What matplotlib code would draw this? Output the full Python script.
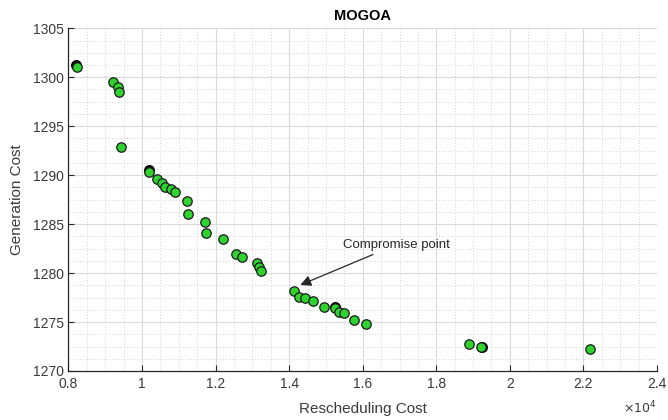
import matplotlib
matplotlib.use("Agg")
import matplotlib.pyplot as plt
from matplotlib.ticker import MultipleLocator, FuncFormatter, AutoMinorLocator

plt.rcParams['font.family'] = ['Liberation Sans', 'DejaVu Sans']

# Pareto front (green markers)
resched_cost = [8230, 9220, 9340, 9365, 9430, 10195, 10420, 10554, 10627, 10780,
                10897, 11214, 11240, 11708, 11727, 12195, 12565, 12716, 13114, 13168,
                13240, 14132, 14268, 14430, 14635, 14951, 15240, 15343, 15497, 15762,
                16078, 18890, 19208, 22190]
gen_cost = [1301.08, 1299.48, 1299.03, 1298.52, 1292.84, 1290.35, 1289.58, 1289.17, 1288.76, 1288.55,
            1288.28, 1287.36, 1286.08, 1285.19, 1284.12, 1283.45, 1281.98, 1281.59, 1281.00, 1280.65,
            1280.18, 1278.12, 1277.55, 1277.45, 1277.18, 1276.50, 1276.40, 1276.05, 1275.92, 1275.20,
            1274.77, 1272.75, 1272.48, 1272.24]

# underlying (black) solutions partially visible
resched_black = [8195, 10176, 15240, 19230]
gen_black = [1301.25, 1290.53, 1276.55, 1272.42]

compromise_x = 14132
compromise_y = 1278.12

x_ticks = [8000, 10000, 12000, 14000, 16000, 18000, 20000, 22000, 24000]
y_ticks = [1270, 1275, 1280, 1285, 1290, 1295, 1300, 1305]

fig = plt.figure(figsize=(6.68, 4.2), dpi=100)
ax = fig.add_axes([0.1025, 0.1167, 0.881, 0.816])

ax.scatter(resched_black, gen_black, s=50, c='#111111', edgecolors='black', linewidths=0.8, zorder=3)
ax.scatter(resched_cost, gen_cost, s=46, c='#2fd22f', edgecolors='#1a1a1a', linewidths=0.9, zorder=4)

ax.annotate('Compromise point', xy=(compromise_x + 170, compromise_y + 0.66),
            xytext=(15465, 1282.9), fontsize=9.5, color='#262626',
            ha='left', va='center',
            arrowprops=dict(arrowstyle='-|>', color='#262626', lw=0.9,
                            mutation_scale=16, shrinkA=2, shrinkB=0),
            zorder=5)

ax.set_xlim(x_ticks[0], x_ticks[-1])
ax.set_ylim(y_ticks[0], y_ticks[-1])
ax.set_xticks(x_ticks)
ax.set_yticks(y_ticks)
ax.xaxis.set_major_formatter(FuncFormatter(lambda v, p: f"{v/1e4:g}"))
ax.xaxis.set_minor_locator(AutoMinorLocator(4))
ax.yaxis.set_minor_locator(AutoMinorLocator(4))

ax.grid(True, which='major', color='#dadada', linewidth=0.8, linestyle='-')
ax.grid(True, which='minor', color='#d4d4d4', linewidth=0.7, linestyle=(0, (1, 2)))
ax.set_axisbelow(True)

for s in ['top', 'right']:
    ax.spines[s].set_visible(False)
for s in ['left', 'bottom']:
    ax.spines[s].set_color('#262626')
    ax.spines[s].set_linewidth(0.9)

ax.tick_params(which='major', direction='in', length=4, colors='#262626', labelsize=10, labelcolor='#3a3a3a')
ax.tick_params(which='minor', length=0)
ax.tick_params(axis='x', pad=4)

ax.set_title('MOGOA', fontsize=10.5, fontweight='bold', color='black', pad=6)
ax.set_xlabel('Rescheduling Cost', fontsize=11, color='#3a3a3a', labelpad=8)
ax.set_ylabel('Generation Cost', fontsize=11, color='#3a3a3a', labelpad=6)

ax.text(1.0, -0.085, r'$\times10^{4}$', transform=ax.transAxes, ha='right', va='top',
        fontsize=9, color='#3a3a3a')

fig.savefig('out.png', dpi=100)
